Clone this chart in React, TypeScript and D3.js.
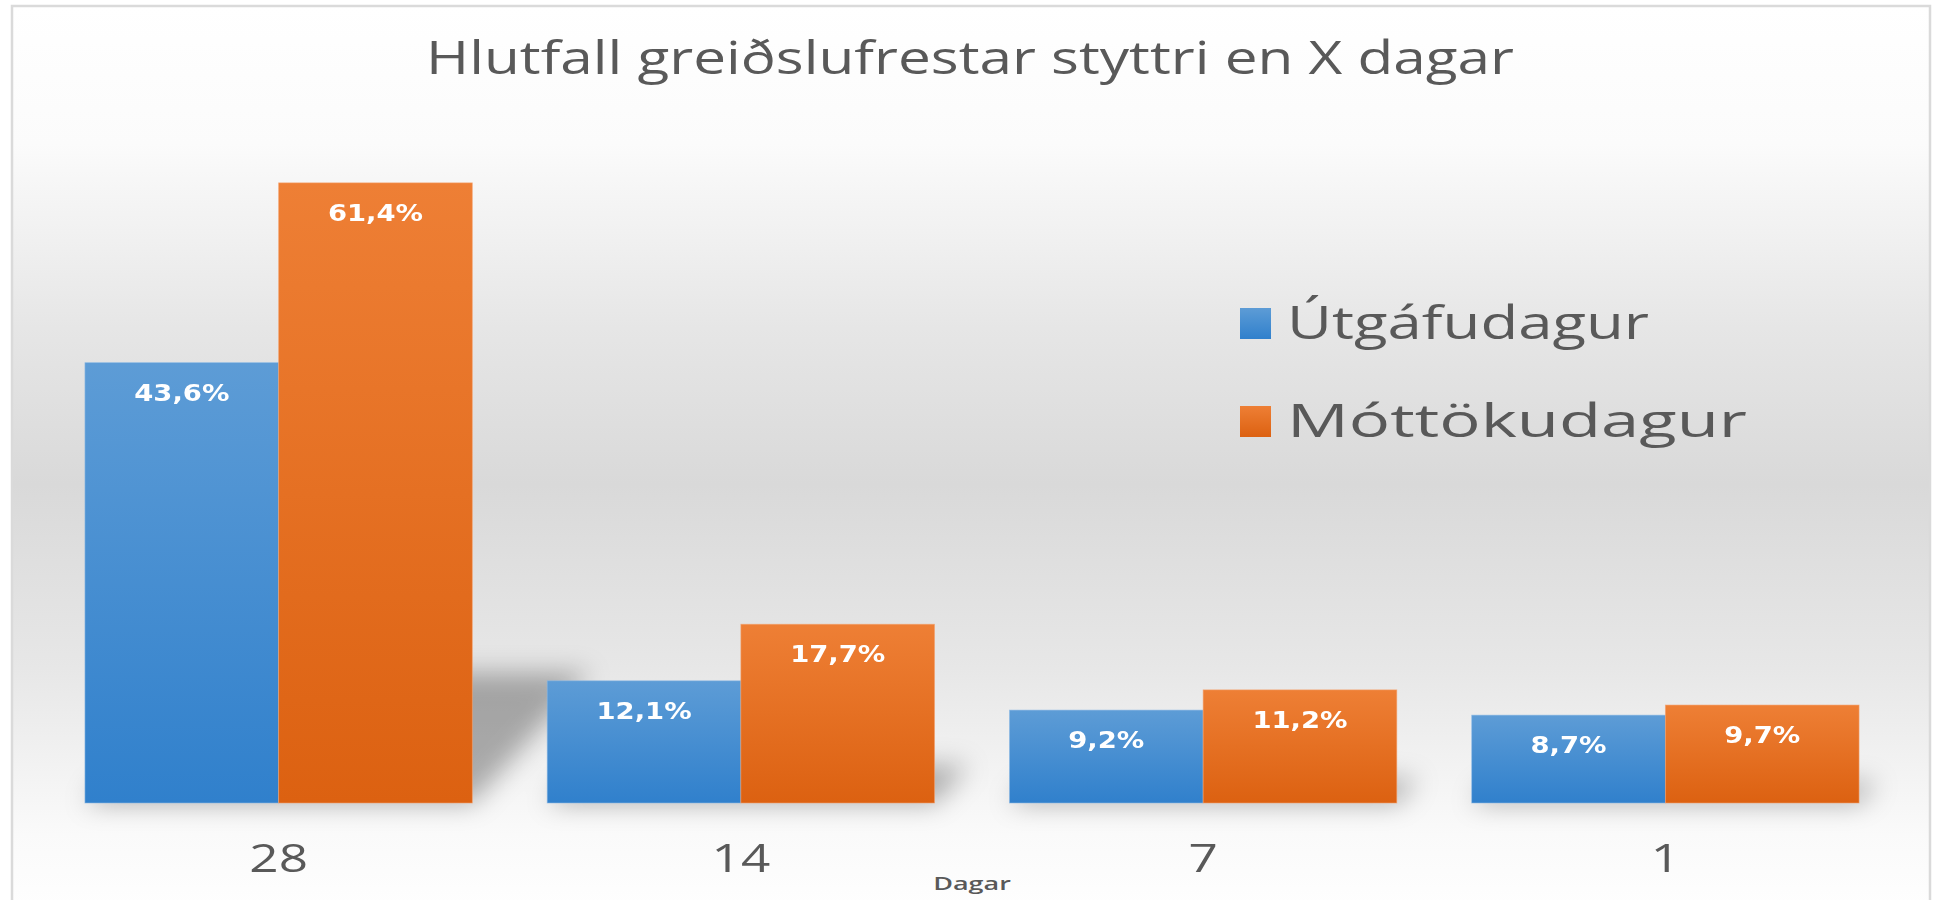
import React from 'react';
import * as d3 from 'd3';

const categories = ['28', '14', '7', '1'];
const seriesNames = ['Útgáfudagur', 'Móttökudagur'];
const utgafudagur = [43.6, 12.1, 9.2, 8.7];
const mottokudagur = [61.4, 17.7, 11.2, 9.7];
const chartTitle = 'Hlutfall greiðslufrestar styttri en X dagar';
const axisTitle = 'Dagar';

const W = 1933;
const H = 900;
const bottom = 803;

const fmt = (v: number) => d3.format('.1f')(v).replace('.', ',') + '%';

const App = () => {
  const x0 = d3.scaleBand().domain(categories).range([47.5, 1896.5]).paddingInner(0.162).paddingOuter(0.081);
  const x1 = d3.scaleBand().domain(seriesNames).range([0, x0.bandwidth()]);
  const y = d3.scaleLinear().domain([0, 70]).range([bottom, 96]);

  const series = [utgafudagur, mottokudagur];
  const fills = ['url(#gBlue)', 'url(#gOrange)'];
  const legendLen = [362, 460];

  const bars = categories.flatMap((c, ci) =>
    seriesNames.map((s, si) => ({
      key: c + s,
      x: (x0(c) || 0) + (x1(s) || 0),
      w: x1.bandwidth(),
      top: y(series[si][ci]),
      v: series[si][ci],
      si,
    }))
  );

  // skewed floor shadow, to the upper right of each bar
  const shadowPts = (b: any) => {
    const hh = (bottom - b.top) * 0.21;
    const d = hh * 0.9;
    return [
      [b.x, bottom],
      [b.x + b.w, bottom],
      [b.x + b.w + d, bottom - hh],
      [b.x + d, bottom - hh],
    ].map(p => p.join(',')).join(' ');
  };

  const txt = (x: number, yy: number, sx: number) => `translate(${x},${yy}) scale(${sx},1)`;

  return (
    <svg width={W} height={H} style={{ position: 'absolute', left: 0, top: 0, display: 'block' }}>
      <defs>
        <linearGradient id="gBg" x1="0" y1="0" x2="0" y2="1">
          <stop offset="0" stopColor="#ffffff" />
          <stop offset="0.15" stopColor="#fbfbfb" />
          <stop offset="0.35" stopColor="#e6e6e6" />
          <stop offset="0.52" stopColor="#d9d9d9" />
          <stop offset="0.72" stopColor="#e7e7e7" />
          <stop offset="0.9" stopColor="#fafafa" />
          <stop offset="1" stopColor="#ffffff" />
        </linearGradient>
        <linearGradient id="gBlue" x1="0" y1="0" x2="0" y2="1">
          <stop offset="0" stopColor="#5d9cd6" />
          <stop offset="1" stopColor="#3080cc" />
        </linearGradient>
        <linearGradient id="gOrange" x1="0" y1="0" x2="0" y2="1">
          <stop offset="0" stopColor="#ee7f35" />
          <stop offset="1" stopColor="#dc6111" />
        </linearGradient>
        <filter id="blur" x="-50%" y="-50%" width="200%" height="200%">
          <feGaussianBlur stdDeviation="13" />
        </filter>
      </defs>

      <rect x={0} y={0} width={W} height={H} fill="#ffffff" />
      <rect x={12} y={6} width={1918} height={920} fill="url(#gBg)" stroke="#dadada" strokeWidth={2.5} />

      <text transform={txt(970, 74, 1.3)} textAnchor="middle" fontFamily="Open Sans" fontSize={45} fill="#595959">
        {chartTitle}
      </text>

      <g filter="url(#blur)">
        {bars.map(b => (
          <polygon key={'s' + b.key} points={shadowPts(b)} fill="#000" opacity={0.3} />
        ))}
      </g>

      {bars.map(b => (
        <rect key={b.key} x={b.x} y={b.top} width={b.w} height={bottom - b.top} fill={fills[b.si]}
          stroke={b.si === 0 ? '#8fbbe6' : '#f3a371'} strokeWidth={0.8} strokeOpacity={0.7} />
      ))}

      {bars.map(b => (
        <text key={'l' + b.key} transform={txt(b.x + b.w / 2, b.top + 38, 1.22)} textAnchor="middle"
          fontFamily="DejaVu Sans" fontWeight="bold" fontSize={22.5} fill="#ffffff">
          {fmt(b.v)}
        </text>
      ))}

      {categories.map(c => (
        <text key={'c' + c} transform={txt((x0(c) || 0) + x0.bandwidth() / 2, 872, 1.35)} textAnchor="middle"
          fontFamily="Open Sans" fontSize={38} fill="#595959">
          {c}
        </text>
      ))}

      <text transform={txt(972, 890, 1.5)} textAnchor="middle" fontFamily="Open Sans" fontWeight="600"
        fontSize={18} fill="#595959">
        {axisTitle}
      </text>

      {seriesNames.map((s, i) => (
        <g key={s} transform={`translate(1240,${308 + i * 98})`}>
          <rect x={0} y={0} width={31} height={31} fill={fills[i]} />
          <text x={47} y={31} textLength={legendLen[i]} lengthAdjust="spacingAndGlyphs"
            fontFamily="Open Sans" fontSize={45} fill="#595959">
            {s}
          </text>
        </g>
      ))}
    </svg>
  );
};

export default App;
